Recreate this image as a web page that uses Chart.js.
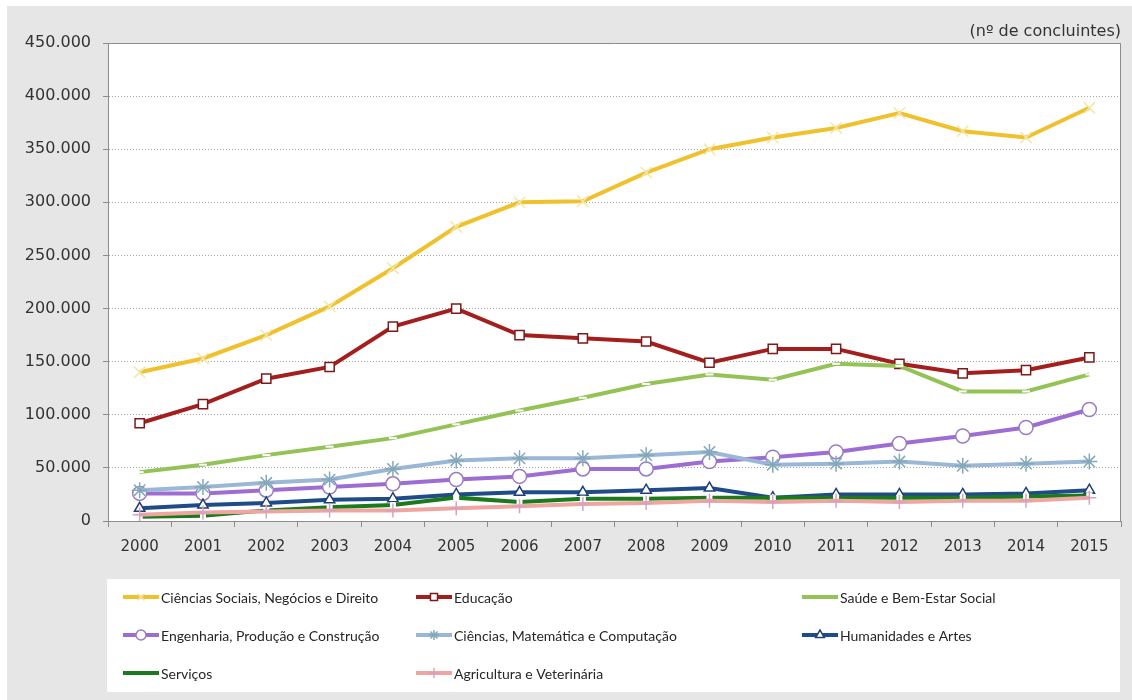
<!DOCTYPE html>
<html>
<head>
<meta charset="utf-8">
<script src="https://cdn.jsdelivr.net/npm/chart.js@4.4.1/dist/chart.umd.min.js"></script>
<style>
  html, body { margin: 0; padding: 0; background: #fff; }
  #wrap { width: 1132px; height: 700px; position: relative; }
</style>
</head>
<body>
<div id="wrap"><canvas id="chart" width="1132" height="700"></canvas></div>
<script>
// anos
const years = ['2000', '2001', '2002', '2003', '2004', '2005', '2006', '2007',
               '2008', '2009', '2010', '2011', '2012', '2013', '2014', '2015'];

// nº de concluintes por área
const sociais      = [140000, 153000, 175000, 202000, 238000, 277000, 300000, 301000, 328000, 350000, 361000, 370000, 384000, 367000, 361000, 389000];
const educacao     = [92000, 110000, 134000, 145000, 183000, 200000, 175000, 172000, 169000, 149000, 162000, 162000, 148000, 139000, 142000, 154000];
const saude        = [46000, 53000, 62000, 70000, 78000, 91000, 104000, 116000, 129000, 138000, 133000, 148000, 146000, 122000, 122000, 138000];
const engenharia   = [26000, 26000, 29000, 32000, 35000, 39000, 42000, 49000, 49000, 56000, 60000, 65000, 73000, 80000, 88000, 105000];
const ciencias     = [29000, 32000, 36000, 39000, 49000, 57000, 59000, 59000, 62000, 65000, 53000, 54000, 56000, 52000, 54000, 56000];
const humanidades  = [12000, 15000, 17000, 20000, 21000, 25000, 27000, 27000, 29000, 31000, 22000, 25000, 25000, 25000, 26000, 29000];
const servicos     = [4000, 5000, 10000, 13000, 15000, 22000, 18000, 21000, 21000, 22000, 22000, 22000, 22000, 22000, 23000, 24000];
const agricultura  = [6000, 8000, 9000, 10000, 10000, 12000, 14000, 16000, 17000, 19000, 18000, 19000, 18000, 19000, 19000, 22000];

const yTicks = [0, 50000, 100000, 150000, 200000, 250000, 300000, 350000, 400000, 450000];

const PLOT = { left: 108, right: 1121, top: 43, bottom: 521 };

function fmt(v) {
  return String(v).replace(/\B(?=(\d{3})+(?!\d))/g, '.');
}

function series(label, data, line, style, radius, border, fill, bw) {
  return {
    label: label,
    data: data,
    borderColor: line,
    backgroundColor: line,
    borderWidth: 4,
    tension: 0,
    pointStyle: style,
    pointRadius: radius,
    pointHoverRadius: radius,
    pointBorderColor: border,
    pointBackgroundColor: fill,
    pointBorderWidth: bw
  };
}

const datasets = [
  series('Ciências Sociais, Negócios e Direito', sociais, '#efc12c', 'crossRot', 8, '#f3e7a8', '#fff', 1.5),
  series('Educação', educacao, '#a41e1e', 'rect', 6.5, '#7d1a1a', '#fff', 1.5),
  series('Saúde e Bem-Estar Social', saude, '#93c355', 'line', 4, '#ffffff', '#fff', 2),
  series('Engenharia, Produção e Construção', engenharia, '#9d6dd3', 'circle', 7, '#9a7cc4', '#fff', 1.5),
  series('Ciências, Matemática e Computação', ciencias, '#9bb7d6', 'star', 8, '#83a9b8', '#fff', 1.5),
  series('Humanidades e Artes', humanidades, '#1f4b89', 'triangle', 6, '#1f3f78', '#fff', 1.5),
  series('Serviços', servicos, '#1b7a1e', 'rect', 3.5, '#ffffff', '#fff', 1),
  series('Agricultura e Veterinária', agricultura, '#efa6a0', 'cross', 7, '#d4a3c0', '#fff', 1.5)
];
// Excel style: last series on top
datasets.forEach(function (d, i) { d.order = datasets.length - i; });

const legendCols = [123, 416, 802];
const legendRows = [597, 635, 673];

const frame = {
  id: 'frame',
  beforeDraw: function (chart) {
    const ctx = chart.ctx;
    ctx.save();
    ctx.fillStyle = '#ffffff';
    ctx.fillRect(0, 0, chart.width, chart.height);
    ctx.fillStyle = '#e6e6e6';
    ctx.fillRect(7, 6, chart.width - 7, chart.height - 6);
    const a = chart.chartArea;
    ctx.fillStyle = '#ffffff';
    ctx.fillRect(a.left, a.top, a.right - a.left, a.bottom - a.top);
    ctx.restore();
  },
  afterDatasetsDraw: function (chart) {
    const ctx = chart.ctx;
    const a = chart.chartArea;
    ctx.save();
    ctx.strokeStyle = '#8c8c8c';
    ctx.lineWidth = 1;
    ctx.beginPath();
    ctx.moveTo(a.left, a.top + 0.5);
    ctx.lineTo(a.right - 0.5, a.top + 0.5);
    ctx.lineTo(a.right - 0.5, a.bottom);
    ctx.stroke();
    ctx.restore();
  },
  afterDraw: function (chart) {
    const ctx = chart.ctx;
    ctx.save();
    ctx.fillStyle = '#ffffff';
    ctx.fillRect(107, 579, 1013, 113);
    ctx.font = '14px Lato, "Open Sans", sans-serif';
    ctx.textBaseline = 'middle';
    chart.data.datasets.forEach(function (d, i) {
      const x = legendCols[i % 3];
      const y = legendRows[Math.floor(i / 3)];
      ctx.strokeStyle = d.borderColor;
      ctx.lineWidth = 4;
      ctx.beginPath();
      ctx.moveTo(x, y);
      ctx.lineTo(x + 36, y);
      ctx.stroke();
      // white markers vanish on the white legend box
      if (Chart.helpers && Chart.helpers.drawPoint && d.pointBorderColor !== '#ffffff') {
        ctx.strokeStyle = d.pointBorderColor;
        ctx.fillStyle = d.pointBackgroundColor;
        ctx.lineWidth = d.pointBorderWidth;
        Chart.helpers.drawPoint(ctx, {
          pointStyle: d.pointStyle,
          radius: Math.min(d.pointRadius, 5),
          rotation: 0,
          borderWidth: d.pointBorderWidth
        }, x + 18, y);
      }
      ctx.fillStyle = '#262626';
      ctx.fillText(d.label, x + 38, y + 1);
    });
    ctx.restore();
  }
};

new Chart(document.getElementById('chart'), {
  type: 'line',
  data: { labels: years, datasets: datasets },
  plugins: [frame],
  options: {
    responsive: false,
    animation: false,
    events: [],
    layout: { padding: { left: 0, right: 11, top: 22, bottom: 0 } },
    plugins: {
      legend: { display: false },
      tooltip: { enabled: false },
      title: {
        display: true,
        text: '(nº de concluintes)',
        align: 'end',
        color: '#333333',
        font: { family: 'DejaVu Sans', size: 16, weight: 'normal', lineHeight: 1.0 },
        padding: { top: 2, bottom: 3 }
      }
    },
    scales: {
      x: {
        offset: true,
        afterFit: function (s) { s.height = 700 - PLOT.bottom; },
        grid: {
          offset: true,
          drawOnChartArea: false,
          tickLength: 6,
          tickColor: '#8c8c8c'
        },
        border: { display: true, color: '#8c8c8c', width: 1 },
        ticks: {
          color: '#333333',
          padding: 11,
          maxRotation: 0,
          autoSkip: false,
          font: { family: 'DejaVu Sans', size: 15 }
        }
      },
      y: {
        min: 0,
        max: 450000,
        afterFit: function (s) { s.width = PLOT.left; },
        afterBuildTicks: function (s) { s.ticks = yTicks.map(function (v) { return { value: v }; }); },
        grid: {
          color: '#a6a6a6',
          tickColor: '#8c8c8c',
          tickLength: 5,
          tickBorderDash: []
        },
        border: { display: true, color: '#8c8c8c', width: 1, dash: [1, 2] },
        ticks: {
          color: '#333333',
          padding: 12,
          font: { family: 'DejaVu Sans', size: 16 },
          callback: function (v) { return fmt(v); }
        }
      }
    }
  }
});
</script>
</body>
</html>
